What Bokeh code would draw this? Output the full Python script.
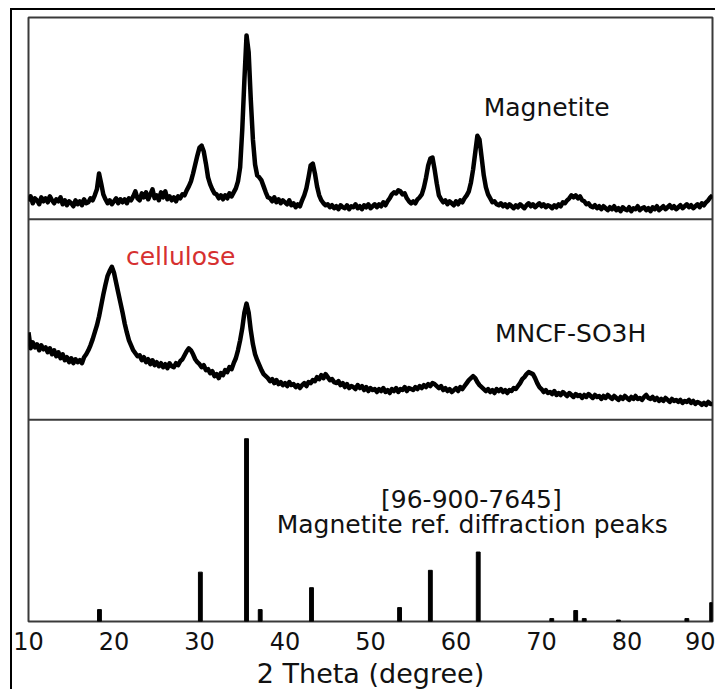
from bokeh.plotting import figure
from bokeh.models import Range1d, Span, FixedTicker
from bokeh.core.properties import value
from bokeh.embed import file_html
from bokeh.resources import INLINE

# ---------------- data ----------------
# common 2-theta sampling of the two measured patterns (degree)
two_theta = [
    10.0, 10.25, 10.5, 10.75, 11.0, 11.25, 11.5, 11.75, 12.0, 12.25, 12.5, 12.75,
    13.0, 13.25, 13.5, 13.75, 14.0, 14.25, 14.5, 14.75, 15.0, 15.25, 15.5, 15.75,
    16.0, 16.25, 16.5, 16.75, 17.0, 17.25, 17.5, 17.75, 18.0, 18.25, 18.5, 18.75,
    19.0, 19.25, 19.5, 19.75, 20.0, 20.25, 20.5, 20.75, 21.0, 21.25, 21.5, 21.75,
    22.0, 22.25, 22.5, 22.75, 23.0, 23.25, 23.5, 23.75, 24.0, 24.25, 24.5, 24.75,
    25.0, 25.25, 25.5, 25.75, 26.0, 26.25, 26.5, 26.75, 27.0, 27.25, 27.5, 27.75,
    28.0, 28.25, 28.5, 28.75, 29.0, 29.25, 29.5, 29.75, 30.0, 30.25, 30.5, 30.75,
    31.0, 31.25, 31.5, 31.75, 32.0, 32.25, 32.5, 32.75, 33.0, 33.25, 33.5, 33.75,
    34.0, 34.25, 34.5, 34.75, 35.0, 35.25, 35.5, 35.75, 36.0, 36.25, 36.5, 36.75,
    37.0, 37.25, 37.5, 37.75, 38.0, 38.25, 38.5, 38.75, 39.0, 39.25, 39.5, 39.75,
    40.0, 40.25, 40.5, 40.75, 41.0, 41.25, 41.5, 41.75, 42.0, 42.25, 42.5, 42.75,
    43.0, 43.25, 43.5, 43.75, 44.0, 44.25, 44.5, 44.75, 45.0, 45.25, 45.5, 45.75,
    46.0, 46.25, 46.5, 46.75, 47.0, 47.25, 47.5, 47.75, 48.0, 48.25, 48.5, 48.75,
    49.0, 49.25, 49.5, 49.75, 50.0, 50.25, 50.5, 50.75, 51.0, 51.25, 51.5, 51.75,
    52.0, 52.25, 52.5, 52.75, 53.0, 53.25, 53.5, 53.75, 54.0, 54.25, 54.5, 54.75,
    55.0, 55.25, 55.5, 55.75, 56.0, 56.25, 56.5, 56.75, 57.0, 57.25, 57.5, 57.75,
    58.0, 58.25, 58.5, 58.75, 59.0, 59.25, 59.5, 59.75, 60.0, 60.25, 60.5, 60.75,
    61.0, 61.25, 61.5, 61.75, 62.0, 62.25, 62.5, 62.75, 63.0, 63.25, 63.5, 63.75,
    64.0, 64.25, 64.5, 64.75, 65.0, 65.25, 65.5, 65.75, 66.0, 66.25, 66.5, 66.75,
    67.0, 67.25, 67.5, 67.75, 68.0, 68.25, 68.5, 68.75, 69.0, 69.25, 69.5, 69.75,
    70.0, 70.25, 70.5, 70.75, 71.0, 71.25, 71.5, 71.75, 72.0, 72.25, 72.5, 72.75,
    73.0, 73.25, 73.5, 73.75, 74.0, 74.25, 74.5, 74.75, 75.0, 75.25, 75.5, 75.75,
    76.0, 76.25, 76.5, 76.75, 77.0, 77.25, 77.5, 77.75, 78.0, 78.25, 78.5, 78.75,
    79.0, 79.25, 79.5, 79.75, 80.0, 80.25, 80.5, 80.75, 81.0, 81.25, 81.5, 81.75,
    82.0, 82.25, 82.5, 82.75, 83.0, 83.25, 83.5, 83.75, 84.0, 84.25, 84.5, 84.75,
    85.0, 85.25, 85.5, 85.75, 86.0, 86.25, 86.5, 86.75, 87.0, 87.25, 87.5, 87.75,
    88.0, 88.25, 88.5, 88.75, 89.0, 89.25, 89.5, 89.75, 90.0]

# Magnetite pattern intensity (a.u.)
magnetite = [
    18, 23, 16, 21, 19, 15, 22, 18, 21, 17, 23, 19,
    16, 20, 18, 22, 15, 19, 14, 18, 16, 13, 19, 15,
    18, 14, 20, 16, 17, 21, 19, 24, 30, 46, 36, 25,
    20, 16, 19, 15, 18, 21, 16, 20, 17, 20, 16, 21,
    19, 23, 28, 21, 19, 26, 22, 27, 20, 25, 30, 21,
    24, 19, 27, 22, 28, 20, 23, 19, 22, 18, 23, 21,
    25, 24, 29, 33, 38, 46, 55, 64, 72, 74, 68, 56,
    42, 35, 30, 26, 25, 21, 24, 20, 24, 21, 26, 23,
    27, 31, 38, 52, 90, 140, 185, 168, 120, 80, 55, 44,
    42, 39, 33, 27, 22, 21, 18, 22, 17, 20, 16, 19,
    17, 15, 19, 14, 16, 12, 15, 13, 19, 24, 31, 42,
    54, 56, 46, 33, 24, 19, 16, 14, 15, 12, 14, 11,
    13, 10, 14, 12, 11, 14, 10, 13, 12, 15, 11, 13,
    10, 14, 12, 15, 11, 13, 15, 12, 15, 13, 17, 14,
    18, 21, 25, 27, 26, 29, 28, 25, 26, 21, 18, 16,
    18, 16, 20, 22, 25, 32, 42, 54, 61, 62, 50, 36,
    24, 20, 17, 19, 15, 18, 16, 14, 18, 15, 19, 17,
    21, 24, 28, 37, 50, 67, 84, 80, 62, 44, 32, 25,
    21, 17, 18, 15, 14, 16, 13, 15, 12, 15, 13, 11,
    14, 12, 15, 13, 11, 14, 16, 13, 15, 12, 14, 16,
    13, 15, 12, 14, 13, 11, 14, 12, 15, 13, 17, 16,
    19, 21, 24, 22, 24, 21, 23, 19, 18, 15, 16, 13,
    12, 14, 11, 13, 10, 13, 11, 9, 12, 10, 13, 9,
    11, 8, 12, 10, 9, 12, 8, 11, 10, 13, 9, 11,
    12, 9, 11, 8, 12, 10, 13, 9, 11, 13, 10, 12,
    14, 11, 13, 10, 12, 14, 11, 13, 15, 12, 14, 11,
    13, 15, 12, 16, 14, 17, 19, 22, 24]

# MNCF-SO3H pattern intensity (a.u.)
mncf_so3h = [
    88, 72, 78, 73, 76, 70, 75, 71, 73, 68, 72, 66,
    70, 64, 68, 62, 66, 60, 63, 58, 62, 57, 61, 58,
    60, 57, 63, 66, 70, 75, 81, 88, 95, 104, 115, 126,
    136, 145, 150, 154, 148, 138, 128, 118, 108, 97, 88, 80,
    75, 70, 67, 64, 65, 60, 63, 58, 61, 56, 60, 55,
    58, 54, 57, 53, 56, 52, 57, 54, 53, 57, 55, 59,
    61, 65, 69, 72, 70, 66, 61, 58, 56, 53, 55, 50,
    51, 47, 49, 44, 46, 42, 47, 45, 50, 48, 53, 51,
    57, 62, 70, 80, 92, 108, 117, 108, 90, 76, 66, 60,
    55, 50, 46, 44, 42, 39, 41, 37, 40, 36, 38, 35,
    37, 34, 38, 35, 36, 33, 35, 32, 35, 37, 34, 38,
    37, 40, 39, 43, 41, 45, 42, 46, 43, 40, 41, 38,
    37, 39, 35, 37, 33, 36, 32, 34, 33, 31, 35, 32,
    34, 30, 33, 29, 32, 30, 31, 28, 31, 29, 32, 28,
    30, 27, 31, 29, 32, 28, 31, 30, 33, 29, 32, 31,
    30, 33, 31, 34, 32, 35, 33, 36, 34, 37, 36, 34,
    32, 34, 30, 32, 29, 31, 28, 30, 32, 29, 33, 31,
    34, 37, 40, 42, 44, 42, 38, 35, 33, 31, 29, 31,
    28, 30, 27, 31, 29, 31, 28, 30, 27, 30, 29, 32,
    31, 34, 37, 41, 43, 46, 48, 47, 46, 42, 37, 33,
    31, 28, 30, 27, 28, 26, 29, 25, 27, 25, 28, 26,
    24, 27, 25, 23, 26, 24, 25, 22, 25, 23, 26, 24,
    22, 25, 23, 24, 21, 24, 22, 25, 23, 21, 24, 22,
    20, 23, 21, 24, 22, 20, 23, 21, 24, 21, 22, 20,
    23, 25, 22, 21, 23, 20, 22, 19, 21, 19, 22, 20,
    18, 21, 19, 20, 18, 20, 17, 19, 18, 20, 17, 19,
    16, 18, 17, 15, 17, 15, 18, 16, 16]

# Magnetite reference diffraction peaks [96-900-7645] (2theta, relative intensity %)
ref_theta = [18.3, 30.1, 35.5, 37.1, 43.1, 53.4, 57.0, 62.6, 71.2, 74.0, 75.0, 79.0, 87.0, 89.9]
ref_intensity = [6.5, 27.0, 100.0, 6.5, 18.5, 7.6, 28.0, 38.0, 1.6, 6.0, 1.6, 0.8, 1.6, 10.3]

x_ticks = [10, 20, 30, 40, 50, 60, 70, 80, 90]

# ---------------- stacking (layout only) ----------------
PANEL = [0, 203, 405, 608]      # panel boundaries on the stacked y scale
REF_SCALE = 1.84                # % -> panel units

mag_plot = [v + PANEL[2] for v in magnetite]
mncf_plot = [v + PANEL[1] for v in mncf_so3h]
ref_top = [v * REF_SCALE for v in ref_intensity]

p = figure(width=705, height=681, output_backend="svg", toolbar_location=None,
           x_range=Range1d(10, 90), y_range=Range1d(PANEL[0], PANEL[3]),
           min_border_left=16, min_border_right=5, min_border_top=7, min_border_bottom=66)
p.styles = {"margin-left": "10px", "margin-top": "8px",
            "border-left": "2px solid black", "border-top": "2px solid black"}

p.background_fill_color = "white"
p.border_fill_color = "white"
p.outline_line_color = "#3a3a3a"
p.outline_line_width = 2
p.xgrid.visible = False
p.ygrid.visible = False
p.yaxis.visible = False

ax = p.xaxis[0]
ax.ticker = FixedTicker(ticks=x_ticks)
ax.axis_line_color = None
ax.major_tick_line_color = None
ax.minor_tick_line_color = None
ax.major_tick_out = 0
ax.major_label_standoff = 10
ax.major_label_text_font = "DejaVu Sans"
ax.major_label_text_font_size = "24px"
ax.major_label_text_color = "#111111"
ax.axis_label = "2 Theta (degree)"
ax.axis_label_text_font = "DejaVu Sans"
ax.axis_label_text_font_size = "27px"
ax.axis_label_text_font_style = "normal"
ax.axis_label_text_color = "#111111"
ax.axis_label_standoff = 5

for loc in (PANEL[1], PANEL[2]):
    p.add_layout(Span(location=loc, dimension="width", line_color="#3a3a3a", line_width=2))

p.line(two_theta, mag_plot, line_color="black", line_width=4.5, line_join="round")
p.line(two_theta, mncf_plot, line_color="black", line_width=4.5, line_join="round")
p.vbar(x=ref_theta, top=ref_top, bottom=0, width=0.45, fill_color="black", line_color="black")

font = value("DejaVu Sans")
common = dict(text_font=font, text_font_size="25px", text_align="center", text_baseline="middle")
p.text(x=[70.6], y=[517], text=["Magnetite"], text_color="#111111", **common)
p.text(x=[27.8], y=[367], text=["cellulose"], text_color="#d63030", **common)
p.text(x=[73.4], y=[290], text=["MNCF-SO3H"], text_color="#111111", **common)
p.text(x=[61.8], y=[123], text=["[96-900-7645]"], text_color="#111111", **common)
p.text(x=[61.9], y=[98], text=["Magnetite ref. diffraction peaks"], text_color="#111111", **common)

open("out.html", "w").write(file_html(p, INLINE))
